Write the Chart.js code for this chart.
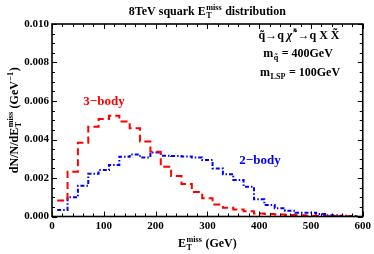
<html>
<head>
<meta charset="UTF-8">
<title>8TeV squark MET</title>
<script src="https://cdn.jsdelivr.net/npm/chart.js"></script>
<style>
  body { margin: 0; background: #fff; }
  .chart_container { width: 374px; height: 254px; }
</style>
</head>
<body>
<div class="chart_container"><canvas id="met"></canvas></div>
<script>
// left bin edges (GeV), bins are 20 GeV wide
const binEdges = [10, 30, 50, 70, 90, 110, 130, 150, 170, 190, 210, 230, 250, 270, 290,
                  310, 330, 350, 370, 390, 410, 430, 450, 470, 490, 510, 530, 550, 570, 590];
const threeBody = [0.00083, 0.00233, 0.00383, 0.00466, 0.00506, 0.00524, 0.00494, 0.00458,
                   0.00389, 0.00337, 0.00259, 0.00210, 0.00169, 0.00127, 0.00095, 0.00062,
                   0.00045, 0.00036, 0.00027, 0.00016, 0.00013, 0.00010, 0.00008, 0.00006,
                   0.00004, 0.00003, 0.00002, 0.00001, 0.00001];
const twoBody = [0.00034, 0.00100, 0.00160, 0.00222, 0.00241, 0.00268, 0.00310, 0.00322,
                 0.00307, 0.00332, 0.00316, 0.00314, 0.00312, 0.00307, 0.00293, 0.00250,
                 0.00220, 0.00190, 0.00155, 0.00089, 0.00060, 0.00043, 0.00030, 0.00020,
                 0.00020, 0.00013, 0.00006, 0.00004, 0.00003];
const xTicks = [0, 100, 200, 300, 400, 500, 600];
const yTicks = [0, 0.002, 0.004, 0.006, 0.008, 0.010];

const SERIF = '"Liberation Serif", "DejaVu Serif", serif';

function histPoints(vals) {
    const pts = vals.map((v, i) => ({ x: binEdges[i], y: v }));
    pts.push({ x: binEdges[vals.length], y: vals[vals.length - 1] });
    return pts;
}

// draws a list of text parts, some with sub/superscripts
function richText(ctx, parts, x, y, size, align) {
    const small = size * 0.68;
    const widths = parts.map(p => {
        if (p.t !== undefined) {
            ctx.font = (p.it ? 'italic ' : '') + 'bold ' + size + 'px ' + SERIF;
            return ctx.measureText(p.t).width;
        }
        ctx.font = 'bold ' + small + 'px ' + SERIF;
        return Math.max(p.sub ? ctx.measureText(p.sub).width : 0, p.sup ? ctx.measureText(p.sup).width : 0) + 1;
    });
    const total = widths.reduce((a, b) => a + b, 0);
    let cx = align === 'center' ? x - total / 2 : (align === 'right' ? x - total : x);
    ctx.textAlign = 'left';
    ctx.textBaseline = 'alphabetic';
    parts.forEach((p, i) => {
        if (p.t !== undefined) {
            ctx.font = (p.it ? 'italic ' : '') + 'bold ' + size + 'px ' + SERIF;
            ctx.fillText(p.t, cx, y);
        } else {
            ctx.font = 'bold ' + small + 'px ' + SERIF;
            if (p.sup) ctx.fillText(p.sup, cx + 0.5, y - size * 0.42);
            if (p.sub) ctx.fillText(p.sub, cx + 0.5, y + size * 0.22);
        }
        cx += widths[i];
    });
}

const decorations = {
    id: 'decorations',
    afterDraw(chart) {
        const ctx = chart.ctx;
        const a = chart.chartArea;
        const xs = chart.scales.x, ys = chart.scales.y;
        ctx.save();
        ctx.strokeStyle = '#000';
        ctx.lineWidth = 1;
        // inward ticks on all four sides
        ctx.beginPath();
        for (let v = 0; v <= 600; v += 20) {
            const px = Math.round(xs.getPixelForValue(v)) + 0.5;
            const len = v % 100 === 0 ? 5 : 3;
            ctx.moveTo(px, a.bottom); ctx.lineTo(px, a.bottom - len);
            ctx.moveTo(px, a.top); ctx.lineTo(px, a.top + len);
        }
        for (let k = 0; k <= 20; k++) {
            const v = k * 0.0005;
            const py = Math.round(ys.getPixelForValue(v)) + 0.5;
            const len = k % 4 === 0 ? 5 : 3;
            ctx.moveTo(a.left, py); ctx.lineTo(a.left + len, py);
            ctx.moveTo(a.right, py); ctx.lineTo(a.right - len, py);
        }
        ctx.stroke();
        ctx.lineWidth = 1.6;
        ctx.strokeRect(a.left, a.top, a.right - a.left, a.bottom - a.top);

        ctx.fillStyle = '#000';
        const midX = (a.left + a.right) / 2;
        richText(ctx, [{ t: '8TeV squark E' }, { sub: 'T', sup: 'miss' }, { t: ' distribution' }], midX, 15, 12, 'center');
        richText(ctx, [{ t: 'E' }, { sub: 'T', sup: 'miss' }, { t: ' (GeV)' }], midX, 247, 12, 'center');

        ctx.save();
        ctx.translate(18, (a.top + a.bottom) / 2);
        ctx.rotate(-Math.PI / 2);
        richText(ctx, [{ t: 'dN/N/dE' }, { sub: 'T', sup: 'miss' }, { t: ' (GeV' }, { sup: '\u22121' }, { t: ')' }], 0, 0, 12, 'center');
        ctx.restore();

        richText(ctx, [{ t: 'q\u0303\u2192q ' }, { t: '\u03c7\u0303', it: true }, { sup: '*' }, { t: '\u2192q X X\u0303' }], 299, 39, 12, 'center');
        richText(ctx, [{ t: 'm' }, { sub: 'q\u0303' }, { t: ' = 400GeV' }], 298, 57, 12, 'center');
        richText(ctx, [{ t: 'm' }, { sub: 'LSP' }, { t: ' = 100GeV' }], 300, 76, 12, 'center');

        ctx.fillStyle = 'rgb(255, 0, 0)';
        richText(ctx, [{ t: '3\u2212body' }], 104, 105, 13, 'center');
        ctx.fillStyle = 'rgb(0, 0, 255)';
        richText(ctx, [{ t: '2\u2212body' }], 260, 164, 13, 'center');
        ctx.restore();
    }
};

const data = {
    datasets: [
        {
            label: '3-body',
            data: histPoints(threeBody),
            borderColor: 'rgb(255, 0, 0)',
            borderWidth: 2,
            borderDash: [7, 4],
            stepped: true,
            pointRadius: 0,
            fill: false
        },
        {
            label: '2-body',
            data: histPoints(twoBody),
            borderColor: 'rgb(0, 0, 255)',
            borderWidth: 2,
            borderDash: [4, 2, 1.5, 2],
            stepped: true,
            pointRadius: 0,
            fill: false
        }
    ]
};

const config = {
    type: 'line',
    data: data,
    options: {
        responsive: false,
        animation: false,
        layout: { padding: { top: 24, right: 11, left: 0, bottom: 0 } },
        plugins: {
            legend: { display: false },
            tooltip: { enabled: false }
        },
        scales: {
            x: {
                type: 'linear',
                min: 0,
                max: 600,
                afterBuildTicks: s => { s.ticks = xTicks.map(v => ({ value: v })); },
                afterFit: s => { s.height = 37.5; },
                grid: { display: false, drawTicks: false },
                border: { display: false },
                ticks: {
                    padding: 3,
                    color: '#000',
                    maxRotation: 0,
                    font: { family: SERIF, size: 11, weight: 'bold' }
                }
            },
            y: {
                min: 0,
                max: 0.010,
                afterBuildTicks: s => { s.ticks = yTicks.map(v => ({ value: v })); },
                afterFit: s => { s.width = 52; },
                grid: { display: false, drawTicks: false },
                border: { display: false },
                ticks: {
                    padding: 3,
                    color: '#000',
                    font: { family: SERIF, size: 11, weight: 'bold' },
                    callback: v => v.toFixed(3)
                }
            }
        }
    },
    plugins: [decorations]
};

const canvas = document.getElementById('met');
canvas.width = 374;
canvas.height = 254;
new Chart(canvas, config);
</script>
</body>
</html>
